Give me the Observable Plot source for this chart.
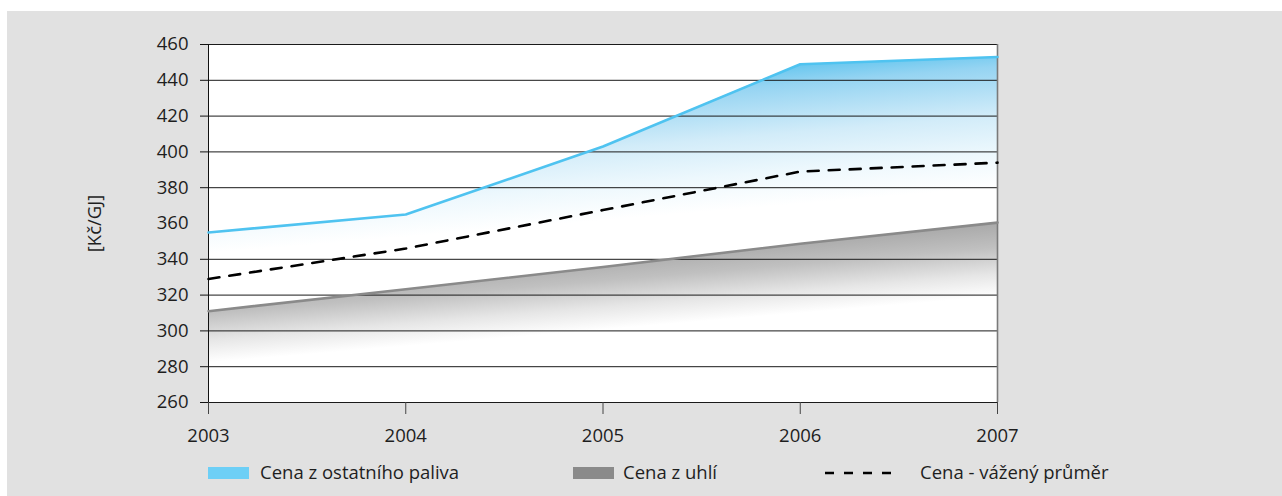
<!DOCTYPE html>
<html>
<head>
<meta charset="utf-8">
<script src="https://cdn.jsdelivr.net/npm/d3@7"></script>
<script src="https://cdn.jsdelivr.net/npm/@observablehq/plot@0.6"></script>
<style>
  html, body { margin: 0; padding: 0; background: #ffffff; }
  #panel {
    position: absolute; left: 7px; top: 11px; width: 1275px; height: 485px;
    background: #e1e1e1; font-family: "Open Sans", sans-serif; color: #1e1e1e;
  }
  #legend { position: relative; height: 24px; font-size: 18.5px; }
  #legend .sw { position: absolute; top: 6px; width: 41px; height: 12px; }
  #legend .tx { position: absolute; top: -1px; line-height: 24px; white-space: nowrap; }
  #legend svg { position: absolute; top: 0; }
</style>
</head>
<body>
<div id="panel">
  <div id="chart"></div>
  <div id="legend"></div>
</div>
<script>
// ---- data ----
const years = [2003, 2004, 2005, 2006, 2007];
const otherFuel = [355, 365, 403, 449, 453];      // Cena z ostatního paliva
const coal = [311, 323.3, 335.7, 348.7, 360.5];   // Cena z uhlí
const weighted = [329, 346, 367.5, 389, 394];     // Cena - vážený průměr
const yTicks = [260, 280, 300, 320, 340, 360, 380, 400, 420, 440, 460];
const gridTicks = [260, 280, 300, 320, 340, 380, 400, 420, 440, 460];
const seriesNames = ["Cena z ostatního paliva", "Cena z uhlí", "Cena - vážený průměr"];
const yDomain = [260, 460];

const data = years.map((yr, i) => ({year: yr, other: otherFuel[i], coal: coal[i], avg: weighted[i]}));

const chart = Plot.plot({
  width: 1275,
  height: 450,
  marginLeft: 201,
  marginRight: 285,
  marginTop: 33,
  marginBottom: 59,
  style: {background: "transparent", fontFamily: "Open Sans", fontSize: "18.5px", color: "#1e1e1e"},
  x: {type: "linear", domain: [years[0], years[years.length - 1]]},
  y: {domain: yDomain},
  marks: [
    Plot.frame({fill: "white", stroke: null}),
    Plot.areaY(data, {x: "year", y1: () => yDomain[0], y2: "other", fill: "url(#blueFade)"}),
    Plot.areaY(data, {x: "year", y1: () => yDomain[0], y2: "coal", fill: "url(#grayFade)"}),
    Plot.ruleY(gridTicks, {stroke: "#1a1a1a", strokeWidth: 1}),
    Plot.ruleX([years[0]], {stroke: "#111", strokeWidth: 1}),
    Plot.ruleX([years[years.length - 1]], {stroke: "#7a7a7a", strokeWidth: 1.6}),
    Plot.axisY(gridTicks, {tickSize: 8, tickFormat: () => "", label: null, color: "#111"}),
    Plot.axisY(yTicks, {tickSize: 0, tickPadding: 20, tickFormat: d3.format("d"),
      label: "[Kč/GJ]", labelAnchor: "center", labelOffset: 121, labelArrow: "none", color: "#1e1e1e"}),
    Plot.axisX(years, {tickSize: 12, tickPadding: 14, tickFormat: d3.format("d"), label: null, color: "#1e1e1e", stroke: "#444"}),
    Plot.line(data, {x: "year", y: "coal", stroke: "#8a8a8a", strokeWidth: 2.6}),
    Plot.line(data, {x: "year", y: "other", stroke: "#4fc3f0", strokeWidth: 2.6}),
    Plot.line(data, {x: "year", y: "avg", stroke: "#000", strokeWidth: 2.6, strokeDasharray: "11,10"})
  ]
});
document.getElementById("chart").appendChild(chart);

// ---- tilted gradient fills, positioned via the scales ----
const xs = chart.scale("x"), ys = chart.scale("y");
const P = (x, y) => [xs.apply(x), ys.apply(y)];
function gradVector(start, a, b) {
  const dx = b[0] - a[0], dy = b[1] - a[1], len = Math.hypot(dx, dy);
  const nx = -dy / len, ny = dx / len;
  const d = (a[0] - start[0]) * nx + (a[1] - start[1]) * ny;
  return [start[0], start[1], start[0] + nx * d, start[1] + ny * d];
}
const defs = d3.select(chart).insert("defs", ":first-child");
function addGrad(id, vec, stops) {
  const g = defs.append("linearGradient").attr("id", id).attr("gradientUnits", "userSpaceOnUse")
    .attr("x1", vec[0]).attr("y1", vec[1]).attr("x2", vec[2]).attr("y2", vec[3]);
  stops.forEach(([o, c]) => g.append("stop").attr("offset", o).attr("stop-color", c));
}
addGrad("blueFade", gradVector(P(2006, 451), P(2003, 343), P(2007, 380)),
  [[0, "#5ec4ee"], [0.16, "#95d4f2"], [0.5, "#d2ecf9"], [0.76, "#edf8fd"], [1, "#ffffff"]]);
addGrad("grayFade", gradVector(P(2007, 361), P(2003, 282), P(2007, 319)),
  [[0, "#a8a8a8"], [0.35, "#c0c0c0"], [0.7, "#e6e6e6"], [1, "#ffffff"]]);

// ---- legend ----
const legend = d3.select("#legend");
const lx = xs.apply(years[0]); // left edge aligned with the plot
legend.append("div").attr("class", "sw").style("left", lx + "px").style("background", "#6dcff6");
legend.append("div").attr("class", "tx").style("left", (lx + 52) + "px").text(seriesNames[0]);
legend.append("div").attr("class", "sw").style("left", "566px").style("background", "#8a8a8a");
legend.append("div").attr("class", "tx").style("left", "616px").text(seriesNames[1]);
const ls = legend.append("svg").attr("width", 80).attr("height", 24).style("left", "818px");
ls.append("line").attr("x1", 0).attr("x2", 75).attr("y1", 12).attr("y2", 12)
  .attr("stroke", "#000").attr("stroke-width", 2.5).attr("stroke-dasharray", "9,10");
legend.append("div").attr("class", "tx").style("left", "913px").text(seriesNames[2]);
</script>
</body>
</html>
